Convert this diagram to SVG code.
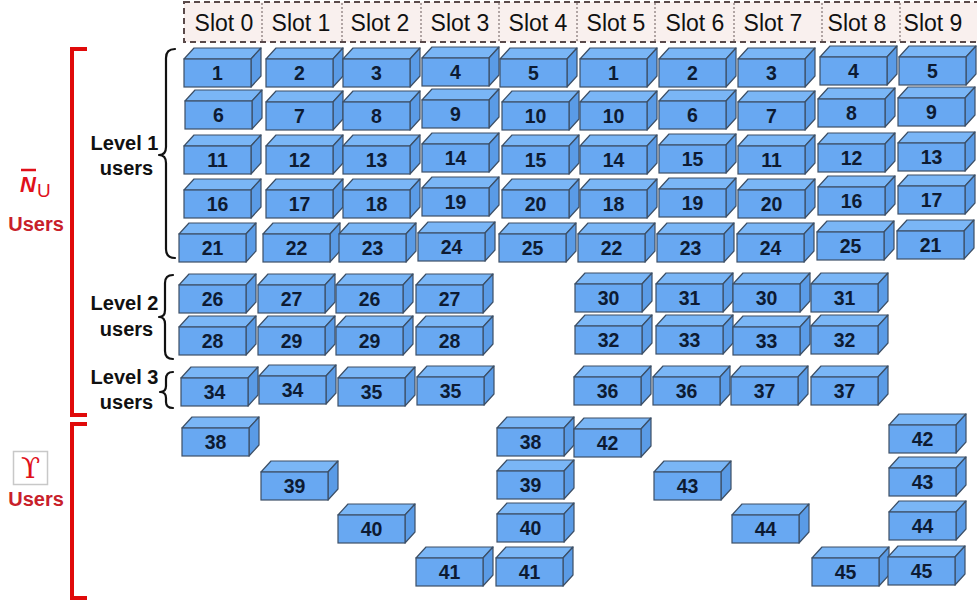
<svg xmlns="http://www.w3.org/2000/svg" xmlns:xlink="http://www.w3.org/1999/xlink" width="977" height="603" viewBox="0 0 977 603">
<style>
.top{fill:#7ab6f6;stroke:#3c4f66;stroke-width:1.2;stroke-linejoin:round}
.side{fill:#5a9be6;stroke:#3c4f66;stroke-width:1.2;stroke-linejoin:round}
.front{fill:#68a8f2;stroke:#3c4f66;stroke-width:1.2}
.num{font-family:"Liberation Sans",Arial,sans-serif;font-weight:bold;font-size:19.5px;fill:#0d1b33;text-anchor:middle}
.slot{font-family:"Liberation Sans",Arial,sans-serif;font-size:23px;fill:#111;text-anchor:middle}
.lvl{font-family:"Liberation Sans",Arial,sans-serif;font-weight:bold;font-size:20px;fill:#111;text-anchor:middle}
.red{font-family:"Liberation Sans",Arial,sans-serif;font-weight:bold;font-size:20px;fill:#c8202a;text-anchor:middle}
.brace{fill:none;stroke:#111;stroke-width:2.2;stroke-linecap:round;stroke-linejoin:round}
.rb{fill:none;stroke:#e00a0a;stroke-width:4}
.div{stroke:#6a5a5a;stroke-width:1;stroke-dasharray:2 2}
</style>
<defs>
<g id="cube">
<polygon class="top" points="0,0 10,-11 77,-11 67,0"/>
<polygon class="side" points="67,0 77,-11 77,17 67,28"/>
<rect class="front" x="0" y="0" width="67" height="28"/>
</g>
</defs>

<g id="header">
<rect x="184" y="2" width="796" height="40" fill="#f9f0ee" stroke="#5a4a4a" stroke-width="2" stroke-dasharray="6 4"/>
<line class="div" x1="262" y1="3" x2="262" y2="41"/>
<line class="div" x1="342" y1="3" x2="342" y2="41"/>
<line class="div" x1="421" y1="3" x2="421" y2="41"/>
<line class="div" x1="499" y1="3" x2="499" y2="41"/>
<line class="div" x1="577" y1="3" x2="577" y2="41"/>
<line class="div" x1="655" y1="3" x2="655" y2="41"/>
<line class="div" x1="734" y1="3" x2="734" y2="41"/>
<line class="div" x1="822" y1="3" x2="822" y2="41"/>
<line class="div" x1="900" y1="3" x2="900" y2="41"/>
<text class="slot" x="224" y="31">Slot 0</text>
<text class="slot" x="301" y="31">Slot 1</text>
<text class="slot" x="380" y="31">Slot 2</text>
<text class="slot" x="460" y="31">Slot 3</text>
<text class="slot" x="538" y="31">Slot 4</text>
<text class="slot" x="616" y="31">Slot 5</text>
<text class="slot" x="695" y="31">Slot 6</text>
<text class="slot" x="773" y="31">Slot 7</text>
<text class="slot" x="857" y="31">Slot 8</text>
<text class="slot" x="933" y="31">Slot 9</text>
</g>

<g id="left-labels">
<line x1="21" y1="170" x2="36" y2="170" stroke="#e0101a" stroke-width="2.5"/>
<text x="20" y="192" font-family="Liberation Sans,Arial,sans-serif" font-weight="bold" font-style="italic" font-size="22" fill="#e0101a">N</text>
<text x="37" y="197" font-family="Liberation Sans,Arial,sans-serif" font-size="19" fill="#e0101a">U</text>
<text class="red" x="36" y="231">Users</text>
<rect x="13.5" y="451.5" width="34" height="33" fill="#fff" stroke="#c8c8c8" stroke-width="1.5"/>
<text x="30.5" y="478" font-family="DejaVu Serif,Liberation Serif,serif" font-size="28" fill="#e0101a" text-anchor="middle">ϒ</text>
<text class="red" x="36" y="506">Users</text>
</g>

<g id="brackets">
<path class="rb" d="M87,49 L72,49 L72,415 L87,415"/>
<path class="rb" d="M87,424 L72,424 L72,598 L87,598"/>
<path class="brace" d="M175,49 Q166,49 166,58 L166,147 Q166,155 159,155 Q166,155 166,163 L166,249 Q166,258 175,258"/>
<path class="brace" d="M173,275 Q165,275 165,283 L165,310 Q165,317 159,317 Q165,317 165,324 L165,351 Q165,359 173,359"/>
<path class="brace" d="M173,372 Q166,372 166,379 L166,386 Q166,392 160,392 Q166,392 166,398 L166,402 Q166,408 173,408"/>
<text class="lvl" x="124.5" y="150">Level 1</text>
<text class="lvl" x="126.5" y="175">users</text>
<text class="lvl" x="124.5" y="310">Level 2</text>
<text class="lvl" x="126.5" y="336">users</text>
<text class="lvl" x="124.5" y="384">Level 3</text>
<text class="lvl" x="126.5" y="409">users</text>
</g>

<g id="connectors"></g>

<g id="r1c0" transform="translate(184,59)"><use xlink:href="#cube"/><text class="num" x="33.5" y="21">1</text></g>
<g id="r1c1" transform="translate(266,59)"><use xlink:href="#cube"/><text class="num" x="33.5" y="21">2</text></g>
<g id="r1c2" transform="translate(343,59)"><use xlink:href="#cube"/><text class="num" x="33.5" y="21">3</text></g>
<g id="r1c3" transform="translate(422,58)"><use xlink:href="#cube"/><text class="num" x="33.5" y="21">4</text></g>
<g id="r1c4" transform="translate(500,59)"><use xlink:href="#cube"/><text class="num" x="33.5" y="21">5</text></g>
<g id="r1c5" transform="translate(580,59)"><use xlink:href="#cube"/><text class="num" x="33.5" y="21">1</text></g>
<g id="r1c6" transform="translate(659,59)"><use xlink:href="#cube"/><text class="num" x="33.5" y="21">2</text></g>
<g id="r1c7" transform="translate(738,59)"><use xlink:href="#cube"/><text class="num" x="33.5" y="21">3</text></g>
<g id="r1c8" transform="translate(820,57)"><use xlink:href="#cube"/><text class="num" x="33.5" y="21">4</text></g>
<g id="r1c9" transform="translate(899,57)"><use xlink:href="#cube"/><text class="num" x="33.5" y="21">5</text></g>

<g id="r2c0" transform="translate(185,101)"><use xlink:href="#cube"/><text class="num" x="33.5" y="21">6</text></g>
<g id="r2c1" transform="translate(266,102)"><use xlink:href="#cube"/><text class="num" x="33.5" y="21">7</text></g>
<g id="r2c2" transform="translate(343,102)"><use xlink:href="#cube"/><text class="num" x="33.5" y="21">8</text></g>
<g id="r2c3" transform="translate(422,100)"><use xlink:href="#cube"/><text class="num" x="33.5" y="21">9</text></g>
<g id="r2c4" transform="translate(502,102)"><use xlink:href="#cube"/><text class="num" x="33.5" y="21">10</text></g>
<g id="r2c5" transform="translate(580,102)"><use xlink:href="#cube"/><text class="num" x="33.5" y="21">10</text></g>
<g id="r2c6" transform="translate(659,101)"><use xlink:href="#cube"/><text class="num" x="33.5" y="21">6</text></g>
<g id="r2c7" transform="translate(738,102)"><use xlink:href="#cube"/><text class="num" x="33.5" y="21">7</text></g>
<g id="r2c8" transform="translate(818,99)"><use xlink:href="#cube"/><text class="num" x="33.5" y="21">8</text></g>
<g id="r2c9" transform="translate(898,98)"><use xlink:href="#cube"/><text class="num" x="33.5" y="21">9</text></g>

<g id="r3c0" transform="translate(184,146)"><use xlink:href="#cube"/><text class="num" x="33.5" y="21">11</text></g>
<g id="r3c1" transform="translate(266,146)"><use xlink:href="#cube"/><text class="num" x="33.5" y="21">12</text></g>
<g id="r3c2" transform="translate(343,146)"><use xlink:href="#cube"/><text class="num" x="33.5" y="21">13</text></g>
<g id="r3c3" transform="translate(422,144)"><use xlink:href="#cube"/><text class="num" x="33.5" y="21">14</text></g>
<g id="r3c4" transform="translate(502,146)"><use xlink:href="#cube"/><text class="num" x="33.5" y="21">15</text></g>
<g id="r3c5" transform="translate(580,146)"><use xlink:href="#cube"/><text class="num" x="33.5" y="21">14</text></g>
<g id="r3c6" transform="translate(659,145)"><use xlink:href="#cube"/><text class="num" x="33.5" y="21">15</text></g>
<g id="r3c7" transform="translate(738,146)"><use xlink:href="#cube"/><text class="num" x="33.5" y="21">11</text></g>
<g id="r3c8" transform="translate(818,144)"><use xlink:href="#cube"/><text class="num" x="33.5" y="21">12</text></g>
<g id="r3c9" transform="translate(898,143)"><use xlink:href="#cube"/><text class="num" x="33.5" y="21">13</text></g>

<g id="r4c0" transform="translate(184,190)"><use xlink:href="#cube"/><text class="num" x="33.5" y="21">16</text></g>
<g id="r4c1" transform="translate(266,190)"><use xlink:href="#cube"/><text class="num" x="33.5" y="21">17</text></g>
<g id="r4c2" transform="translate(343,190)"><use xlink:href="#cube"/><text class="num" x="33.5" y="21">18</text></g>
<g id="r4c3" transform="translate(422,188)"><use xlink:href="#cube"/><text class="num" x="33.5" y="21">19</text></g>
<g id="r4c4" transform="translate(502,190)"><use xlink:href="#cube"/><text class="num" x="33.5" y="21">20</text></g>
<g id="r4c5" transform="translate(580,190)"><use xlink:href="#cube"/><text class="num" x="33.5" y="21">18</text></g>
<g id="r4c6" transform="translate(659,189)"><use xlink:href="#cube"/><text class="num" x="33.5" y="21">19</text></g>
<g id="r4c7" transform="translate(738,190)"><use xlink:href="#cube"/><text class="num" x="33.5" y="21">20</text></g>
<g id="r4c8" transform="translate(818,187)"><use xlink:href="#cube"/><text class="num" x="33.5" y="21">16</text></g>
<g id="r4c9" transform="translate(898,186)"><use xlink:href="#cube"/><text class="num" x="33.5" y="21">17</text></g>

<g id="r5c0" transform="translate(179,234)"><use xlink:href="#cube"/><text class="num" x="33.5" y="21">21</text></g>
<g id="r5c1" transform="translate(263,234)"><use xlink:href="#cube"/><text class="num" x="33.5" y="21">22</text></g>
<g id="r5c2" transform="translate(339,234)"><use xlink:href="#cube"/><text class="num" x="33.5" y="21">23</text></g>
<g id="r5c3" transform="translate(418,233)"><use xlink:href="#cube"/><text class="num" x="33.5" y="21">24</text></g>
<g id="r5c4" transform="translate(499,234)"><use xlink:href="#cube"/><text class="num" x="33.5" y="21">25</text></g>
<g id="r5c5" transform="translate(578,234)"><use xlink:href="#cube"/><text class="num" x="33.5" y="21">22</text></g>
<g id="r5c6" transform="translate(657,234)"><use xlink:href="#cube"/><text class="num" x="33.5" y="21">23</text></g>
<g id="r5c7" transform="translate(737,234)"><use xlink:href="#cube"/><text class="num" x="33.5" y="21">24</text></g>
<g id="r5c8" transform="translate(817,232)"><use xlink:href="#cube"/><text class="num" x="33.5" y="21">25</text></g>
<g id="r5c9" transform="translate(897,231)"><use xlink:href="#cube"/><text class="num" x="33.5" y="21">21</text></g>

<g id="l2a0" transform="translate(179,285)"><use xlink:href="#cube"/><text class="num" x="33.5" y="21">26</text></g>
<g id="l2a1" transform="translate(258,285)"><use xlink:href="#cube"/><text class="num" x="33.5" y="21">27</text></g>
<g id="l2a2" transform="translate(336,285)"><use xlink:href="#cube"/><text class="num" x="33.5" y="21">26</text></g>
<g id="l2a3" transform="translate(416,285)"><use xlink:href="#cube"/><text class="num" x="33.5" y="21">27</text></g>
<g id="l2a5" transform="translate(575,284)"><use xlink:href="#cube"/><text class="num" x="33.5" y="21">30</text></g>
<g id="l2a6" transform="translate(656,284)"><use xlink:href="#cube"/><text class="num" x="33.5" y="21">31</text></g>
<g id="l2a7" transform="translate(733,284)"><use xlink:href="#cube"/><text class="num" x="33.5" y="21">30</text></g>
<g id="l2a8" transform="translate(811,284)"><use xlink:href="#cube"/><text class="num" x="33.5" y="21">31</text></g>

<g id="l2b0" transform="translate(179,327)"><use xlink:href="#cube"/><text class="num" x="33.5" y="21">28</text></g>
<g id="l2b1" transform="translate(258,327)"><use xlink:href="#cube"/><text class="num" x="33.5" y="21">29</text></g>
<g id="l2b2" transform="translate(336,327)"><use xlink:href="#cube"/><text class="num" x="33.5" y="21">29</text></g>
<g id="l2b3" transform="translate(416,327)"><use xlink:href="#cube"/><text class="num" x="33.5" y="21">28</text></g>
<g id="l2b5" transform="translate(575,326)"><use xlink:href="#cube"/><text class="num" x="33.5" y="21">32</text></g>
<g id="l2b6" transform="translate(656,326)"><use xlink:href="#cube"/><text class="num" x="33.5" y="21">33</text></g>
<g id="l2b7" transform="translate(733,327)"><use xlink:href="#cube"/><text class="num" x="33.5" y="21">33</text></g>
<g id="l2b8" transform="translate(811,326)"><use xlink:href="#cube"/><text class="num" x="33.5" y="21">32</text></g>

<g id="l3c0" transform="translate(181,378)"><use xlink:href="#cube"/><text class="num" x="33.5" y="21">34</text></g>
<g id="l3c1" transform="translate(259,376)"><use xlink:href="#cube"/><text class="num" x="33.5" y="21">34</text></g>
<g id="l3c2" transform="translate(338,378)"><use xlink:href="#cube"/><text class="num" x="33.5" y="21">35</text></g>
<g id="l3c3" transform="translate(417,377)"><use xlink:href="#cube"/><text class="num" x="33.5" y="21">35</text></g>
<g id="l3c5" transform="translate(574,377)"><use xlink:href="#cube"/><text class="num" x="33.5" y="21">36</text></g>
<g id="l3c6" transform="translate(653,377)"><use xlink:href="#cube"/><text class="num" x="33.5" y="21">36</text></g>
<g id="l3c7" transform="translate(731,377)"><use xlink:href="#cube"/><text class="num" x="33.5" y="21">37</text></g>
<g id="l3c8" transform="translate(811,377)"><use xlink:href="#cube"/><text class="num" x="33.5" y="21">37</text></g>

<g id="u38a" transform="translate(182,428)"><use xlink:href="#cube"/><text class="num" x="33.5" y="21">38</text></g>
<g id="u38b" transform="translate(497,428)"><use xlink:href="#cube"/><text class="num" x="33.5" y="21">38</text></g>
<g id="u42a" transform="translate(574,429)"><use xlink:href="#cube"/><text class="num" x="33.5" y="21">42</text></g>
<g id="u42b" transform="translate(889,425)"><use xlink:href="#cube"/><text class="num" x="33.5" y="21">42</text></g>
<g id="u39a" transform="translate(261,472)"><use xlink:href="#cube"/><text class="num" x="33.5" y="21">39</text></g>
<g id="u39b" transform="translate(497,471)"><use xlink:href="#cube"/><text class="num" x="33.5" y="21">39</text></g>
<g id="u43a" transform="translate(654,472)"><use xlink:href="#cube"/><text class="num" x="33.5" y="21">43</text></g>
<g id="u43b" transform="translate(889,468)"><use xlink:href="#cube"/><text class="num" x="33.5" y="21">43</text></g>
<g id="u40a" transform="translate(338,515)"><use xlink:href="#cube"/><text class="num" x="33.5" y="21">40</text></g>
<g id="u40b" transform="translate(497,514)"><use xlink:href="#cube"/><text class="num" x="33.5" y="21">40</text></g>
<g id="u44a" transform="translate(732,515)"><use xlink:href="#cube"/><text class="num" x="33.5" y="21">44</text></g>
<g id="u44b" transform="translate(889,512)"><use xlink:href="#cube"/><text class="num" x="33.5" y="21">44</text></g>
<g id="u41a" transform="translate(416,558)"><use xlink:href="#cube"/><text class="num" x="33.5" y="21">41</text></g>
<g id="u41b" transform="translate(496,558)"><use xlink:href="#cube"/><text class="num" x="33.5" y="21">41</text></g>
<g id="u45a" transform="translate(812,558)"><use xlink:href="#cube"/><text class="num" x="33.5" y="21">45</text></g>
<g id="u45b" transform="translate(888,557)"><use xlink:href="#cube"/><text class="num" x="33.5" y="21">45</text></g>
</svg>
